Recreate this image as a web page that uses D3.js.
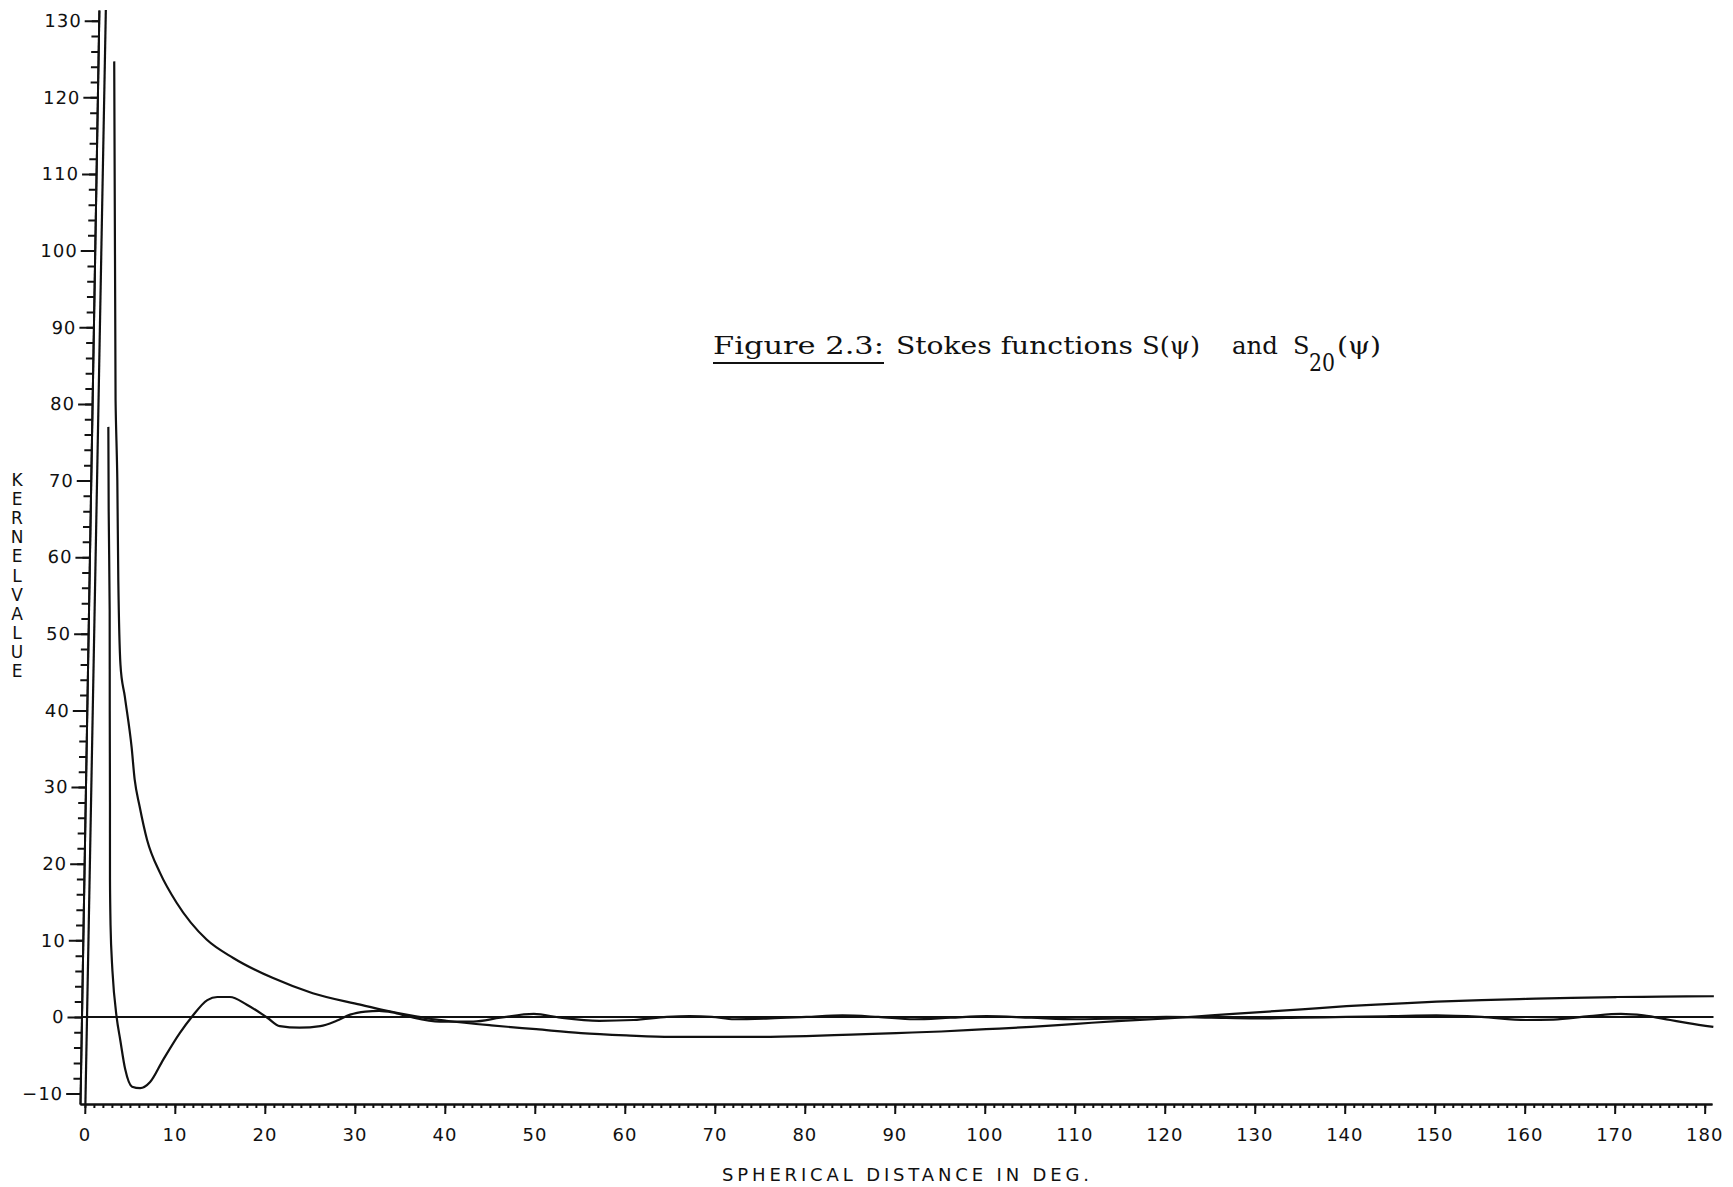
<!DOCTYPE html>
<html>
<head>
<meta charset="utf-8">
<script src="https://cdn.jsdelivr.net/npm/d3@7"></script>
<style>
  body { margin: 0; background: #fff; }
  svg { display: block; }
</style>
</head>
<body>
<svg></svg>
<script>
// values (psi in degrees, kernel value)
let stokesPsi = [1.25, 2.05, 2.4, 2.7, 3.1, 3.65, 4.5, 4.9, 5.5, 6.4, 7.9, 9.8, 13.2, 16.2, 20.6, 25.1, 30.4, 33, 36, 38, 40, 45, 50, 55, 60, 65, 70, 75, 80, 85, 90, 95, 100, 105, 110, 115, 120, 125, 130, 135, 140, 145, 150, 155, 160, 165, 170, 175, 180.8]
let stokesVal = [124.7, 80.5, 70, 57, 46, 41.8, 35.2, 31, 27.5, 23.1, 18.8, 14.9, 10.1, 7.7, 5.1, 3.1, 1.6, 0.9, 0.2, -0.2, -0.5, -1.1, -1.6, -2.1, -2.4, -2.6, -2.6, -2.6, -2.5, -2.3, -2.1, -1.9, -1.6, -1.3, -0.9, -0.5, -0.2, 0.2, 0.6, 1.0, 1.4, 1.7, 2.0, 2.2, 2.35, 2.5, 2.6, 2.65, 2.7]

let s20Psi = [1.3, 1.5, 1.8, 2.0, 2.2, 2.35, 2.5, 2.8, 3.35, 3.8, 4.4, 5.2, 6.1, 7.2, 8.6, 10.4, 11.7, 13.4, 14.5, 15.9, 17.8, 20.1, 21.5, 23.7, 26, 27.8, 29.3, 31, 32.5, 34, 36, 39.3, 43, 46, 49.7, 52.7, 57, 60.8, 64.5, 67, 69.5, 72, 76, 80, 84, 88, 92, 96, 100, 105, 110, 115, 120, 125, 130, 135, 140, 145, 150, 155, 160, 163, 167, 170.5, 173, 176, 178, 180.8]
let s20Val = [77, 66, 53, 40, 28, 18, 12, 6, 0, -3, -6.8, -9.1, -9.3, -8.5, -5.6, -2.1, 0, 2.2, 2.6, 2.6, 1.6, -0.1, -1.2, -1.4, -1.2, -0.5, 0.3, 0.7, 0.8, 0.6, 0, -0.6, -0.6, -0.1, 0.4, -0.1, -0.5, -0.4, 0, 0.1, 0, -0.3, -0.2, 0, 0.2, 0, -0.3, -0.1, 0.1, -0.1, -0.3, -0.2, 0, -0.1, -0.2, -0.1, 0, 0.1, 0.2, 0, -0.4, -0.35, 0.1, 0.4, 0.2, -0.4, -0.8, -1.3]

// the near-vertical branch next to the axis
let branchPsi = [0.05, 0.22]
let branchVal = [-11.36, 131.4]

let xMajor = d3.range(0, 181, 10)
let xMinor = d3.range(0, 181, 1)
let yMajor = d3.range(-10, 131, 10)
let yMinor = d3.range(-10, 131, 2)

let width = 1733
let height = 1187
let ink = "#111"
let plotFont = "'DejaVu Sans', sans-serif"

let svg = d3.select("svg")
  .attr("width", width)
  .attr("height", height)

let xScale = d3.scaleLinear()
  .domain([-0.55, 180.8])
  .range([80, 1712])

let yScale = d3.scaleLinear()
  .domain([-11.36, 131.4])
  .range([1104, 10])

// the scanned frame leans a little to the right at the top
let plot = svg.append("g")
  .attr("transform", "translate(0,1104) skewX(-0.99) translate(0,-1104)")

let drawAxes = () => {
  let xMinorAxis = d3.axisBottom(xScale).tickValues(xMinor).tickSize(4).tickSizeOuter(0).tickFormat("")
  let xMajorAxis = d3.axisBottom(xScale).tickValues(xMajor).tickSize(10).tickSizeOuter(0).tickFormat("")
  let yMinorAxis = d3.axisLeft(yScale).tickValues(yMinor).tickSize(7).tickSizeOuter(0).tickFormat("")
  let yMajorAxis = d3.axisLeft(yScale).tickValues(yMajor).tickSize(14).tickSizeOuter(0)
    .tickPadding(3).tickFormat(d3.format("d"))

  plot.append("g").attr("transform", "translate(0," + yScale.range()[0] + ")").call(xMinorAxis)
  plot.append("g").attr("transform", "translate(0," + yScale.range()[0] + ")").call(xMajorAxis)
  plot.append("g").attr("transform", "translate(" + xScale.range()[0] + ",0)").call(yMinorAxis)
  let yg = plot.append("g").attr("transform", "translate(" + xScale.range()[0] + ",0)").call(yMajorAxis)

  plot.selectAll(".domain, .tick line")
    .attr("stroke", ink)
    .attr("stroke-width", 2)

  yg.selectAll("text")
    .style("font-family", plotFont)
    .style("font-size", "18px")
    .style("letter-spacing", "1px")
    .attr("fill", ink)

  // x tick labels sit a bit lower than d3 would put them
  svg.append("g")
    .selectAll("text")
    .data(xMajor)
    .enter()
    .append("text")
    .attr("x", d => xScale(d))
    .attr("y", 1141)
    .attr("text-anchor", "middle")
    .style("font-family", plotFont)
    .style("font-size", "18px")
    .style("letter-spacing", "1px")
    .attr("fill", ink)
    .text(d => d)

  svg.append("text")
    .attr("x", 722)
    .attr("y", 1181)
    .attr("textLength", 367)
    .attr("lengthAdjust", "spacing")
    .style("font-family", plotFont)
    .style("font-size", "18px")
    .attr("fill", ink)
    .text("SPHERICAL DISTANCE IN DEG.")

  let yLabel = svg.append("text")
    .attr("text-anchor", "middle")
    .style("font-family", plotFont)
    .style("font-size", "17px")
    .attr("fill", ink)
  "KERNELVALUE".split("").forEach((ch, i) => {
    yLabel.append("tspan")
      .attr("x", 17)
      .attr("y", 486 + i * 19.1)
      .text(ch)
  })
}

let drawLines = () => {
  let line = d3.line()
    .x(d => xScale(d[0]))
    .y(d => yScale(d[1]))
    .curve(d3.curveMonotoneX)

  // zero line
  plot.append("path")
    .datum([[xScale.domain()[0], 0], [xScale.domain()[1], 0]])
    .attr("d", line)
    .attr("fill", "none")
    .attr("stroke", ink)
    .attr("stroke-width", 2)

  let series = [
    d3.zip(branchPsi, branchVal),
    d3.zip(stokesPsi, stokesVal),
    d3.zip(s20Psi, s20Val)
  ]

  plot.selectAll(".curve")
    .data(series)
    .enter()
    .append("path")
    .attr("class", "curve")
    .attr("d", line)
    .attr("fill", "none")
    .attr("stroke", ink)
    .attr("stroke-width", 2.2)
    .attr("stroke-linejoin", "round")
}

let drawTitle = () => {
  let titleFont = "'DejaVu Serif', 'Liberation Serif', serif"
  let baseline = 354
  let parts = [
    { t: "Figure 2.3:", x: 713, w: 171, dy: 0 },
    { t: "Stokes functions", x: 896, w: 237, dy: 0 },
    { t: "S(\u03C8)", x: 1142, w: 58, dy: 0 },
    { t: "and", x: 1232, w: 46, dy: 0 },
    { t: "S", x: 1293, w: null, dy: 0 },
    { t: "20", x: 1309, w: 26, dy: 17 },
    { t: "(\u03C8)", x: 1337, w: 44, dy: 0 }
  ]
  let tt = svg.append("g")
    .selectAll("text")
    .data(parts)
    .enter()
    .append("text")
    .attr("x", d => d.x)
    .attr("y", d => baseline + d.dy)
    .style("font-family", titleFont)
    .style("font-size", "24px")
    .attr("fill", ink)
    .text(d => d.t)
  tt.filter(d => d.w)
    .attr("textLength", d => d.w)
    .attr("lengthAdjust", "spacingAndGlyphs")

  svg.append("line")
    .attr("x1", 713)
    .attr("x2", 884)
    .attr("y1", baseline + 9)
    .attr("y2", baseline + 9)
    .attr("stroke", ink)
    .attr("stroke-width", 2)
}

drawAxes()
drawLines()
drawTitle()
</script>
</body>
</html>
